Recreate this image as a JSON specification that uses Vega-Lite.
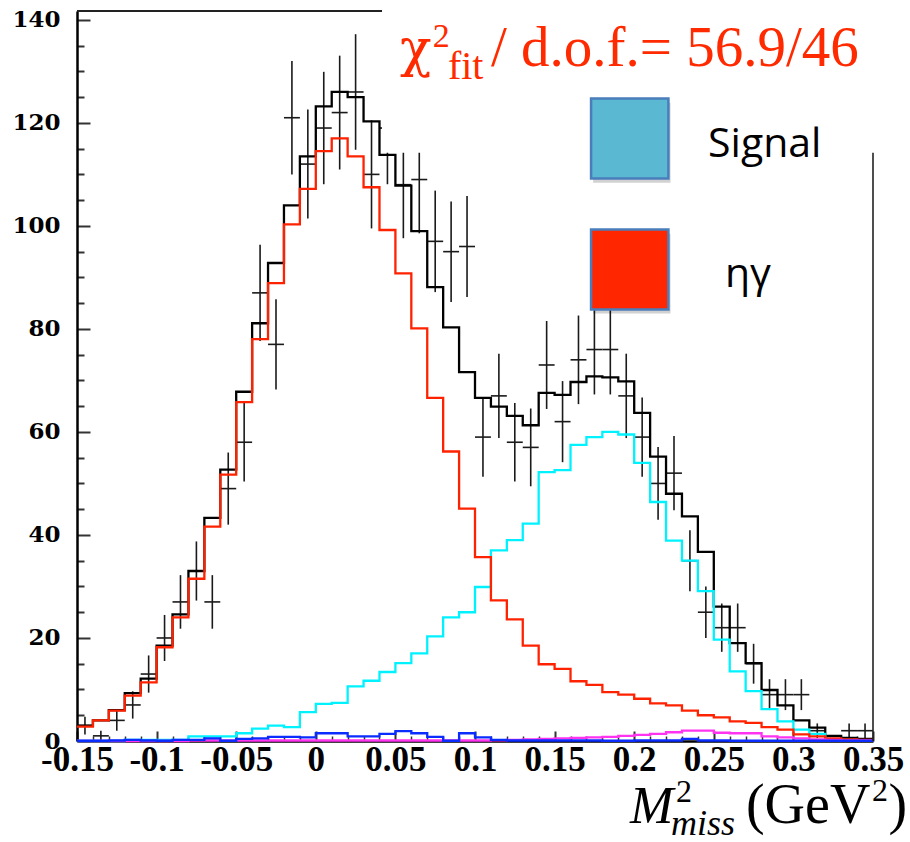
{
  "$schema": "https://vega.github.io/schema/vega-lite/v6.json",
  "width": 796,
  "height": 730,
  "autosize": {"type": "none"},
  "padding": {"left": 77, "right": 37, "top": 11, "bottom": 101},
  "background": "white",
  "config": {"view": {"stroke": null}},
  "resolve": {"axis": {"x": "independent", "y": "independent"}},
  "datasets": {
    "h": [
      {"lo": -0.15, "hi": -0.14, "c": -0.145, "data": 3, "err": 1.73, "tot": 3.0, "eta": 2.8, "sig": 0, "blu": 0.05, "mag": 0},
      {"lo": -0.14, "hi": -0.13, "c": -0.135, "data": 1, "err": 1, "tot": 4.0, "eta": 4.0, "sig": 0, "blu": 0.05, "mag": 0},
      {"lo": -0.13, "hi": -0.12, "c": -0.125, "data": 4, "err": 2, "tot": 6.0, "eta": 5.9, "sig": 0, "blu": 0.1, "mag": 0},
      {"lo": -0.12, "hi": -0.11, "c": -0.115, "data": 7, "err": 2.65, "tot": 9.3, "eta": 8.8, "sig": 0.2, "blu": 0.2, "mag": 0},
      {"lo": -0.11, "hi": -0.10, "c": -0.105, "data": 13, "err": 3.61, "tot": 12.1, "eta": 11.4, "sig": 0.2, "blu": 0.1, "mag": 0},
      {"lo": -0.10, "hi": -0.09, "c": -0.095, "data": 20, "err": 4.47, "tot": 18.5, "eta": 18.2, "sig": 0.2, "blu": 0.05, "mag": 0},
      {"lo": -0.09, "hi": -0.08, "c": -0.085, "data": 27, "err": 5.2, "tot": 24.6, "eta": 24.0, "sig": 0.2, "blu": 0.2, "mag": 0},
      {"lo": -0.08, "hi": -0.07, "c": -0.075, "data": 33, "err": 5.74, "tot": 33.0, "eta": 31.5, "sig": 0.9, "blu": 0.2, "mag": 0.1},
      {"lo": -0.07, "hi": -0.06, "c": -0.065, "data": 27, "err": 5.2, "tot": 43.3, "eta": 41.6, "sig": 0.9, "blu": 0.5, "mag": 0.1},
      {"lo": -0.06, "hi": -0.05, "c": -0.055, "data": 49, "err": 7, "tot": 52.7, "eta": 51.7, "sig": 0.9, "blu": 0.05, "mag": 0.1},
      {"lo": -0.05, "hi": -0.04, "c": -0.045, "data": 58, "err": 7.62, "tot": 67.8, "eta": 65.8, "sig": 1.5, "blu": 0.4, "mag": 0.1},
      {"lo": -0.04, "hi": -0.03, "c": -0.035, "data": 87, "err": 9.33, "tot": 81.1, "eta": 78.0, "sig": 2.4, "blu": 0.5, "mag": 0.1},
      {"lo": -0.03, "hi": -0.02, "c": -0.025, "data": 77, "err": 8.77, "tot": 92.8, "eta": 88.9, "sig": 3.0, "blu": 0.8, "mag": 0.1},
      {"lo": -0.02, "hi": -0.01, "c": -0.015, "data": 121, "err": 11, "tot": 104.0, "eta": 100.3, "sig": 2.7, "blu": 0.8, "mag": 0.1},
      {"lo": -0.01, "hi": 0, "c": -0.005, "data": 112, "err": 10.58, "tot": 113.5, "eta": 107.2, "sig": 5.6, "blu": 0.7, "mag": 0.1},
      {"lo": 0, "hi": 0.01, "c": 0.005, "data": 119, "err": 10.91, "tot": 123.2, "eta": 114.5, "sig": 7.2, "blu": 1.5, "mag": 0.1},
      {"lo": 0.01, "hi": 0.02, "c": 0.015, "data": 122, "err": 11.05, "tot": 126.0, "eta": 117.0, "sig": 7.4, "blu": 1.5, "mag": 0.1},
      {"lo": 0.02, "hi": 0.03, "c": 0.025, "data": 126, "err": 11.22, "tot": 125.0, "eta": 113.5, "sig": 10.6, "blu": 0.9, "mag": 0.1},
      {"lo": 0.03, "hi": 0.04, "c": 0.035, "data": 110, "err": 10.49, "tot": 120.3, "eta": 107.5, "sig": 11.7, "blu": 0.9, "mag": 0.1},
      {"lo": 0.04, "hi": 0.05, "c": 0.045, "data": 119, "err": 10.91, "tot": 113.8, "eta": 99.2, "sig": 13.4, "blu": 1.4, "mag": 0.1},
      {"lo": 0.05, "hi": 0.06, "c": 0.055, "data": 108, "err": 10.39, "tot": 107.8, "eta": 90.8, "sig": 15.1, "blu": 1.9, "mag": 0.1},
      {"lo": 0.06, "hi": 0.07, "c": 0.065, "data": 109, "err": 10.44, "tot": 99.0, "eta": 80.1, "sig": 17.0, "blu": 1.5, "mag": 0.1},
      {"lo": 0.07, "hi": 0.08, "c": 0.075, "data": 97, "err": 9.85, "tot": 88.1, "eta": 66.6, "sig": 20.3, "blu": 0.8, "mag": 0.1},
      {"lo": 0.08, "hi": 0.09, "c": 0.085, "data": 95, "err": 9.75, "tot": 80.3, "eta": 56.2, "sig": 24.0, "blu": 0.05, "mag": 0.1},
      {"lo": 0.09, "hi": 0.10, "c": 0.095, "data": 96, "err": 9.8, "tot": 71.6, "eta": 45.1, "sig": 25.0, "blu": 1.5, "mag": 0.1},
      {"lo": 0.10, "hi": 0.11, "c": 0.105, "data": 59, "err": 7.68, "tot": 66.6, "eta": 35.7, "sig": 29.9, "blu": 0.7, "mag": 0.1},
      {"lo": 0.11, "hi": 0.12, "c": 0.115, "data": 67, "err": 8.19, "tot": 64.9, "eta": 27.3, "sig": 37.0, "blu": 0.2, "mag": 0.15},
      {"lo": 0.12, "hi": 0.13, "c": 0.125, "data": 58, "err": 7.62, "tot": 63.1, "eta": 23.6, "sig": 39.0, "blu": 0.1, "mag": 0.2},
      {"lo": 0.13, "hi": 0.14, "c": 0.135, "data": 57, "err": 7.55, "tot": 61.3, "eta": 18.5, "sig": 42.2, "blu": 0.1, "mag": 0.3},
      {"lo": 0.14, "hi": 0.15, "c": 0.145, "data": 73, "err": 8.54, "tot": 67.6, "eta": 14.9, "sig": 52.2, "blu": 0.1, "mag": 0.4},
      {"lo": 0.15, "hi": 0.16, "c": 0.155, "data": 62, "err": 7.87, "tot": 67.2, "eta": 14.0, "sig": 52.6, "blu": 0.1, "mag": 0.5},
      {"lo": 0.16, "hi": 0.17, "c": 0.165, "data": 74, "err": 8.6, "tot": 69.7, "eta": 11.6, "sig": 57.5, "blu": 0.1, "mag": 0.6},
      {"lo": 0.17, "hi": 0.18, "c": 0.175, "data": 76, "err": 8.72, "tot": 70.8, "eta": 10.9, "sig": 59.0, "blu": 0.1, "mag": 0.7},
      {"lo": 0.18, "hi": 0.19, "c": 0.185, "data": 76, "err": 8.72, "tot": 70.6, "eta": 9.5, "sig": 60.0, "blu": 0.05, "mag": 0.8},
      {"lo": 0.19, "hi": 0.20, "c": 0.195, "data": 67, "err": 8.19, "tot": 69.8, "eta": 9.0, "sig": 59.5, "blu": 0.05, "mag": 1.0},
      {"lo": 0.20, "hi": 0.21, "c": 0.205, "data": 59, "err": 7.68, "tot": 63.7, "eta": 8.2, "sig": 54.0, "blu": 0.1, "mag": 1.2},
      {"lo": 0.21, "hi": 0.22, "c": 0.215, "data": 50, "err": 7.07, "tot": 55.2, "eta": 7.3, "sig": 46.4, "blu": 0.1, "mag": 1.4},
      {"lo": 0.22, "hi": 0.23, "c": 0.225, "data": 52, "err": 7.21, "tot": 48.0, "eta": 6.9, "sig": 38.9, "blu": 0.1, "mag": 1.7},
      {"lo": 0.23, "hi": 0.24, "c": 0.235, "data": 35, "err": 5.92, "tot": 43.6, "eta": 5.9, "sig": 35.0, "blu": 0.4, "mag": 2.0},
      {"lo": 0.24, "hi": 0.25, "c": 0.245, "data": 25, "err": 5, "tot": 36.7, "eta": 5.0, "sig": 29.1, "blu": 0.1, "mag": 2.0},
      {"lo": 0.25, "hi": 0.26, "c": 0.255, "data": 22, "err": 4.69, "tot": 26.1, "eta": 4.6, "sig": 19.7, "blu": 0.1, "mag": 1.6},
      {"lo": 0.26, "hi": 0.27, "c": 0.265, "data": 22, "err": 4.69, "tot": 19.0, "eta": 3.8, "sig": 13.5, "blu": 0.05, "mag": 1.5},
      {"lo": 0.27, "hi": 0.28, "c": 0.275, "data": 15, "err": 3.87, "tot": 15.1, "eta": 3.5, "sig": 9.7, "blu": 0.05, "mag": 1.5},
      {"lo": 0.28, "hi": 0.29, "c": 0.285, "data": 9, "err": 3, "tot": 9.9, "eta": 2.7, "sig": 6.2, "blu": 0.05, "mag": 0.9},
      {"lo": 0.29, "hi": 0.30, "c": 0.295, "data": 9, "err": 3, "tot": 6.9, "eta": 2.2, "sig": 3.8, "blu": 0.05, "mag": 0.7},
      {"lo": 0.30, "hi": 0.31, "c": 0.305, "data": 9, "err": 3, "tot": 4.0, "eta": 1.3, "sig": 2.2, "blu": 0.05, "mag": 0.5},
      {"lo": 0.31, "hi": 0.32, "c": 0.315, "data": 2, "err": 1.41, "tot": 2.6, "eta": 0.9, "sig": 1.4, "blu": 0.05, "mag": 0.3},
      {"lo": 0.32, "hi": 0.33, "c": 0.325, "tot": 1.0, "eta": 0.5, "sig": 0.4, "blu": 0.05, "mag": 0.2},
      {"lo": 0.33, "hi": 0.34, "c": 0.335, "data": 2, "err": 1.41, "tot": 0.6, "eta": 0.3, "sig": 0.2, "blu": 0.05, "mag": 0.1},
      {"lo": 0.34, "hi": 0.35, "c": 0.345, "data": 2, "err": 1.41, "tot": 0.4, "eta": 0.2, "sig": 0.1, "blu": 0.05, "mag": 0.1},
      {"lo": 0.35, "tot": 0.4, "eta": 0.2, "sig": 0.1, "blu": 0.05, "mag": 0.1}
    ]
  },
  "layer": [
    {
      "data": {"name": "h"},
      "mark": {"type": "point", "opacity": 0},
      "encoding": {
        "x": {"field": "lo", "type": "quantitative",
          "scale": {"domain": [-0.15, 0.35], "nice": false, "zero": false},
          "axis": {"orient": "bottom", "values": [-0.14,-0.13,-0.12,-0.11,-0.09,-0.08,-0.07,-0.06,-0.04,-0.03,-0.02,-0.01,0.01,0.02,0.03,0.04,0.06,0.07,0.08,0.09,0.11,0.12,0.13,0.14,0.16,0.17,0.18,0.19,0.21,0.22,0.23,0.24,0.26,0.27,0.28,0.29,0.31,0.32,0.33,0.34],
            "tickSize": -5, "tickWidth": 1.5, "tickColor": "#333", "labels": false, "domain": false, "grid": false, "title": null}},
        "y": {"field": "tot", "type": "quantitative",
          "scale": {"domain": [0, 141.72], "nice": false, "zero": false},
          "axis": {"orient": "left", "values": [5,10,15,25,30,35,45,50,55,65,70,75,85,90,95,105,110,115,125,130,135],
            "tickSize": -7, "tickWidth": 2, "tickColor": "#333", "labels": false, "domain": false, "grid": false, "title": null}}
      }
    },
    {
      "data": {"name": "h"},
      "transform": [{"filter": "isValid(datum.data)"}],
      "mark": {"type": "errorbar", "color": "#1a1a1a", "thickness": 1.6},
      "encoding": {
        "x": {"field": "c", "type": "quantitative",
          "axis": {"orient": "bottom", "values": [-0.15,-0.1,-0.05,0,0.05,0.1,0.15,0.2,0.25,0.3,0.35],
            "tickSize": -10, "tickWidth": 2, "tickColor": "#333", "domain": true, "domainColor": "#000", "domainWidth": 2.5,
            "labelExpr": "toString(datum.value)", "labelFont": "Liberation Serif", "labelFontWeight": "bold", "labelFontSize": 35,
            "labelColor": "#000", "labelPadding": 11, "labelOverlap": false, "labelFlush": false, "labelBound": false, "grid": false, "title": null}},
        "y": {"field": "data", "type": "quantitative",
          "axis": {"orient": "left", "values": [0,20,40,60,80,100,120,140],
            "tickSize": -13, "tickWidth": 2, "tickColor": "#333", "domain": true, "domainColor": "#000", "domainWidth": 2.5,
            "labelFont": "DejaVu Serif", "labelFontWeight": "bold", "labelFontSize": 23, "labelColor": "#000",
            "labelPadding": 30, "labelOverlap": false, "labelBound": false, "grid": false, "title": null}},
        "yError": {"field": "err"}
      }
    },
    {
      "data": {"name": "h"},
      "transform": [{"filter": "isValid(datum.data)"}],
      "mark": {"type": "rule", "color": "#1a1a1a", "strokeWidth": 1.6},
      "encoding": {
        "x": {"field": "lo", "type": "quantitative", "axis": null},
        "x2": {"field": "hi"},
        "y": {"field": "data", "type": "quantitative", "axis": null}
      }
    },
    {
      "data": {"name": "h"},
      "mark": {"type": "line", "interpolate": "step-after", "color": "#000000", "strokeWidth": 2.3},
      "encoding": {
        "x": {"field": "lo", "type": "quantitative", "axis": null},
        "y": {"field": "tot", "type": "quantitative", "axis": null}
      }
    },
    {
      "data": {"name": "h"},
      "mark": {"type": "line", "interpolate": "step-after", "color": "#00f2ff", "strokeWidth": 2.3},
      "encoding": {
        "x": {"field": "lo", "type": "quantitative", "axis": null},
        "y": {"field": "sig", "type": "quantitative", "axis": null}
      }
    },
    {
      "data": {"name": "h"},
      "mark": {"type": "line", "interpolate": "step-after", "color": "#ff2200", "strokeWidth": 2.3},
      "encoding": {
        "x": {"field": "lo", "type": "quantitative", "axis": null},
        "y": {"field": "eta", "type": "quantitative", "axis": null}
      }
    },
    {
      "data": {"name": "h"},
      "mark": {"type": "line", "interpolate": "step-after", "color": "#ff33f0", "strokeWidth": 2.3},
      "encoding": {
        "x": {"field": "lo", "type": "quantitative", "axis": null},
        "y": {"field": "mag", "type": "quantitative", "axis": null}
      }
    },
    {
      "data": {"name": "h"},
      "mark": {"type": "line", "interpolate": "step-after", "color": "#0a2cff", "strokeWidth": 2.3},
      "encoding": {
        "x": {"field": "lo", "type": "quantitative", "axis": null},
        "y": {"field": "blu", "type": "quantitative", "axis": null}
      }
    },
    {
      "data": {"values": [{}]},
      "mark": {"type": "rect", "color": "#ffffff"},
      "encoding": {
        "x": {"datum": 0.0416, "type": "quantitative", "axis": null},
        "x2": {"datum": 0.36},
        "y": {"datum": 114.2, "type": "quantitative", "axis": null},
        "y2": {"datum": 145}
      }
    },
    {
      "data": {"values": [{}]},
      "mark": {"type": "rule", "color": "#222", "strokeWidth": 2},
      "encoding": {
        "x": {"datum": -0.15, "type": "quantitative", "axis": null},
        "x2": {"datum": 0.0416},
        "y": {"datum": 141.72, "type": "quantitative", "axis": null}
      }
    },
    {
      "data": {"values": [{}]},
      "mark": {"type": "rule", "color": "#222", "strokeWidth": 1.6},
      "encoding": {
        "x": {"datum": 0.35, "type": "quantitative", "axis": null},
        "y": {"datum": 0, "type": "quantitative", "axis": null},
        "y2": {"datum": 114.2}
      }
    },
    {
      "data": {"values": [{}]},
      "mark": {"type": "rect", "color": "#000000", "opacity": 0.18},
      "encoding": {
        "x": {"datum": 0.1742, "type": "quantitative", "axis": null},
        "x2": {"datum": 0.2228},
        "y": {"datum": 108.4, "type": "quantitative", "axis": null},
        "y2": {"datum": 123.9}
      }
    },
    {
      "data": {"values": [{}]},
      "mark": {"type": "rect", "color": "#000000", "opacity": 0.18},
      "encoding": {
        "x": {"datum": 0.1742, "type": "quantitative", "axis": null},
        "x2": {"datum": 0.2228},
        "y": {"datum": 83.0, "type": "quantitative", "axis": null},
        "y2": {"datum": 98.5}
      }
    },
    {
      "data": {"values": [{}]},
      "mark": {"type": "rect", "fill": "#5bb8d2", "stroke": "#4a7ebb", "strokeWidth": 2.5},
      "encoding": {
        "x": {"datum": 0.1729, "type": "quantitative", "axis": null},
        "x2": {"datum": 0.2215},
        "y": {"datum": 109.18, "type": "quantitative", "axis": null},
        "y2": {"datum": 124.71}
      }
    },
    {
      "data": {"values": [{}]},
      "mark": {"type": "rect", "fill": "#ff2600", "stroke": "#4a7ebb", "strokeWidth": 2.5},
      "encoding": {
        "x": {"datum": 0.1729, "type": "quantitative", "axis": null},
        "x2": {"datum": 0.2215},
        "y": {"datum": 83.77, "type": "quantitative", "axis": null},
        "y2": {"datum": 99.28}
      }
    },
    {
      "data": {"values": [{}]},
      "mark": {"type": "text", "text": "Signal", "font": "Open Sans", "fontSize": 41, "color": "#000", "align": "left", "baseline": "alphabetic"},
      "encoding": {
        "x": {"datum": 0.2464, "type": "quantitative", "axis": null},
        "y": {"datum": 113.38, "type": "quantitative", "axis": null}
      }
    },
    {
      "data": {"values": [{}]},
      "mark": {"type": "text", "text": "ηγ", "font": "Open Sans", "fontSize": 41, "color": "#000", "align": "left", "baseline": "alphabetic"},
      "encoding": {
        "x": {"datum": 0.2570, "type": "quantitative", "axis": null},
        "y": {"datum": 88.14, "type": "quantitative", "axis": null}
      }
    },
    {
      "data": {"values": [{}]},
      "mark": {"type": "text", "text": "χ", "font": "DejaVu Serif", "fontSize": 52, "color": "#ff2a00", "align": "left", "baseline": "alphabetic"},
      "encoding": {
        "x": {"datum": 0.0529, "type": "quantitative", "axis": null},
        "y": {"datum": 131.04, "type": "quantitative", "axis": null}
      }
    },
    {
      "data": {"values": [{}]},
      "mark": {"type": "text", "text": "2", "font": "Liberation Serif", "fontSize": 34, "color": "#ff2a00", "align": "left", "baseline": "alphabetic"},
      "encoding": {
        "x": {"datum": 0.0735, "type": "quantitative", "axis": null},
        "y": {"datum": 134.73, "type": "quantitative", "axis": null}
      }
    },
    {
      "data": {"values": [{}]},
      "mark": {"type": "text", "text": "fit", "font": "Liberation Serif", "fontSize": 40, "color": "#ff2a00", "align": "left", "baseline": "alphabetic"},
      "encoding": {
        "x": {"datum": 0.0830, "type": "quantitative", "axis": null},
        "y": {"datum": 128.52, "type": "quantitative", "axis": null}
      }
    },
    {
      "data": {"values": [{}]},
      "mark": {"type": "text", "text": "/ d.o.f.= 56.9/46", "font": "Liberation Serif", "fontSize": 57, "color": "#ff2a00", "align": "left", "baseline": "alphabetic"},
      "encoding": {
        "x": {"datum": 0.1100, "type": "quantitative", "axis": null},
        "y": {"datum": 131.04, "type": "quantitative", "axis": null}
      }
    },
    {
      "data": {"values": [{}]},
      "mark": {"type": "text", "text": "M", "font": "Liberation Serif", "fontStyle": "italic", "fontSize": 52, "color": "#000", "align": "left", "baseline": "alphabetic"},
      "encoding": {
        "x": {"datum": 0.1974, "type": "quantitative", "axis": null},
        "y": {"datum": -15.92, "type": "quantitative", "axis": null}
      }
    },
    {
      "data": {"values": [{}]},
      "mark": {"type": "text", "text": "2", "font": "Liberation Serif", "fontSize": 32, "color": "#000", "align": "left", "baseline": "alphabetic"},
      "encoding": {
        "x": {"datum": 0.2263, "type": "quantitative", "axis": null},
        "y": {"datum": -11.84, "type": "quantitative", "axis": null}
      }
    },
    {
      "data": {"values": [{}]},
      "mark": {"type": "text", "text": "miss", "font": "Liberation Serif", "fontStyle": "italic", "fontSize": 36, "color": "#000", "align": "left", "baseline": "alphabetic"},
      "encoding": {
        "x": {"datum": 0.2231, "type": "quantitative", "axis": null},
        "y": {"datum": -18.3, "type": "quantitative", "axis": null}
      }
    },
    {
      "data": {"values": [{}]},
      "mark": {"type": "text", "text": "(GeV", "font": "Liberation Serif", "fontSize": 56, "color": "#000", "align": "left", "baseline": "alphabetic"},
      "encoding": {
        "x": {"datum": 0.2702, "type": "quantitative", "axis": null},
        "y": {"datum": -15.92, "type": "quantitative", "axis": null}
      }
    },
    {
      "data": {"values": [{}]},
      "mark": {"type": "text", "text": "2", "font": "Liberation Serif", "fontSize": 32, "color": "#000", "align": "left", "baseline": "alphabetic"},
      "encoding": {
        "x": {"datum": 0.3494, "type": "quantitative", "axis": null},
        "y": {"datum": -11.6, "type": "quantitative", "axis": null}
      }
    },
    {
      "data": {"values": [{}]},
      "mark": {"type": "text", "text": ")", "font": "Liberation Serif", "fontSize": 56, "color": "#000", "align": "left", "baseline": "alphabetic"},
      "encoding": {
        "x": {"datum": 0.3598, "type": "quantitative", "axis": null},
        "y": {"datum": -15.92, "type": "quantitative", "axis": null}
      }
    }
  ]
}
